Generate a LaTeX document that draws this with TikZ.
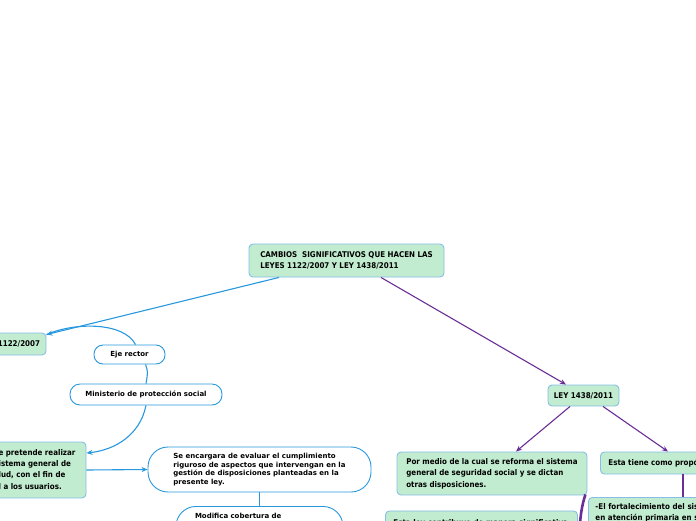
\documentclass[tikz,border=0pt]{standalone}
\usepackage{fontspec}
\newfontfamily\condf{DejaVu Sans Condensed}
\newfontfamily\verdf{DejaVu Sans}
\usetikzlibrary{arrows.meta}
\definecolor{greenc}{RGB}{193,236,207}
\definecolor{gbord}{RGB}{135,190,232}
\definecolor{bluec}{RGB}{40,152,222}
\definecolor{purpc}{RGB}{106,46,150}
\begin{document}
\begin{tikzpicture}[x=1pt,y=-1pt,
 gbox/.style={draw=gbord, fill=greenc, line width=0.9pt, rounded corners=4pt,
   font=\condf\bfseries\fontsize{7.9}{11.5}\selectfont, align=left, inner ysep=0pt},
 pillbox/.style={draw=bluec, fill=white, line width=0.9pt,
   font=\verdf\bfseries\fontsize{7}{8.8}\selectfont, align=left, inner ysep=0pt},
 blink/.style={draw=bluec, line width=1.1pt},
 plink/.style={draw=purpc, line width=1.1pt},
 tip/.style={-{Stealth[length=6pt,width=5pt]}}
]
\useasboundingbox (0,0) rectangle (696,520);
\clip (0,0) rectangle (696,520);

% nodes
\node[gbox, minimum width=195, minimum height=33] (root) at (346.5,260.5)
  {CAMBIOS\ \ SIGNIFICATIVOS QUE HACEN LAS\\LEYES 1122/2007 Y LEY 1438/2011};
\node[gbox, minimum width=71, minimum height=22, align=center] (l1122) at (10.5,344) {LEY 1122/2007};
\node[gbox, minimum width=71, minimum height=21, align=center] (l1438) at (583.5,395.5) {LEY 1438/2011};

\node[pillbox, minimum width=71, minimum height=19, rounded corners=9pt, align=center] (eje) at (129.5,354.5) {Eje rector};
\node[pillbox, minimum width=152, minimum height=21, rounded corners=10pt, align=center] (minis) at (146,394.5) {Ministerio de protección social};

\node[gbox, minimum width=98, minimum height=56, inner xsep=0pt,
  font=\condf\bfseries\fontsize{7.9}{11.3}\selectfont] (lgreen) at (37,470)
  {\llap{Con esta ley s}e pretende realizar\\\llap{cambios en el s}istema general de\\\llap{seguridad social en sa}lud, con el fin de\\\llap{brindar atención integra}l a los usuarios.};

\node[pillbox, minimum width=223, minimum height=45, rounded corners=20pt] (bigpill) at (259.5,469.5)
  {Se encargara de evaluar el cumplimiento\\riguroso de aspectos que intervengan en la\\gestión de disposiciones planteadas en la\\presente ley.};

\node[pillbox, anchor=north, minimum width=167, rounded corners=20pt, inner xsep=19, text width=129,
  text height=5pt, text depth=45pt, inner ysep=7.5] (modif) at (259.5,506)
  {Modifica cobertura de};

\node[gbox, minimum width=190, minimum height=43] (pormedio) at (492,473.5)
  {Por medio de la cual se reforma el sistema\\general de seguridad social y se dictan\\otras disposiciones.};

\node[gbox, anchor=west, minimum height=22, inner xsep=8] (esta) at (600,463) {Esta tiene como propósito};

\node[gbox, anchor=north west, inner xsep=7, text width=220, text height=5.5pt, text depth=25pt,
  inner ysep=6.5, font=\condf\bfseries\fontsize{7.9}{11.3}\selectfont] (fort) at (588,497)
  {-El fortalecimiento del sistema de salud\\en atención primaria en salud};

\node[gbox, anchor=north west, inner xsep=8, text width=176, text height=5.5pt, text depth=20pt,
  inner ysep=9.5] (contrib) at (385,510.5)
  {Esta ley contribuye de manera significativa};

\coordinate (vx) at (683,0);
\coordinate (pend) at (579,540);

% connectors
\draw[blink, tip] ([xshift=-67.5pt]root.south) -- ([yshift=-2pt]l1122.north east);
\draw[blink] ([yshift=-2pt]l1122.north east) .. controls (75,322) and (124,322) .. ([xshift=6pt]eje.north);
\draw[blink] ([xshift=16pt]eje.south) .. controls (148,372) .. (minis.north);
\draw[blink, tip] (minis.south) .. controls (140,435) and (115,450) .. ([yshift=17pt]lgreen.east);
\draw[blink, tip] (lgreen.east) -- (bigpill.west);
\draw[blink] (bigpill.south) -- (modif.north);

\draw[plink, tip] ([xshift=34.5pt]root.south) -- ([xshift=-17.5pt]l1438.north);
\draw[plink, tip] ([xshift=-13.5pt]l1438.south) -- ([xshift=24pt]pormedio.north);
\draw[plink, tip] ([xshift=19.5pt]l1438.south) -- ([xshift=68pt]esta.north west);
\draw[plink] (esta.south -| vx) -- (fort.north -| vx);
\draw[purpc, line width=2.6pt] ([xshift=-2pt,yshift=1pt]pormedio.south east) .. controls (582,505) and (580,515) .. (pend);
\end{tikzpicture}
\end{document}
